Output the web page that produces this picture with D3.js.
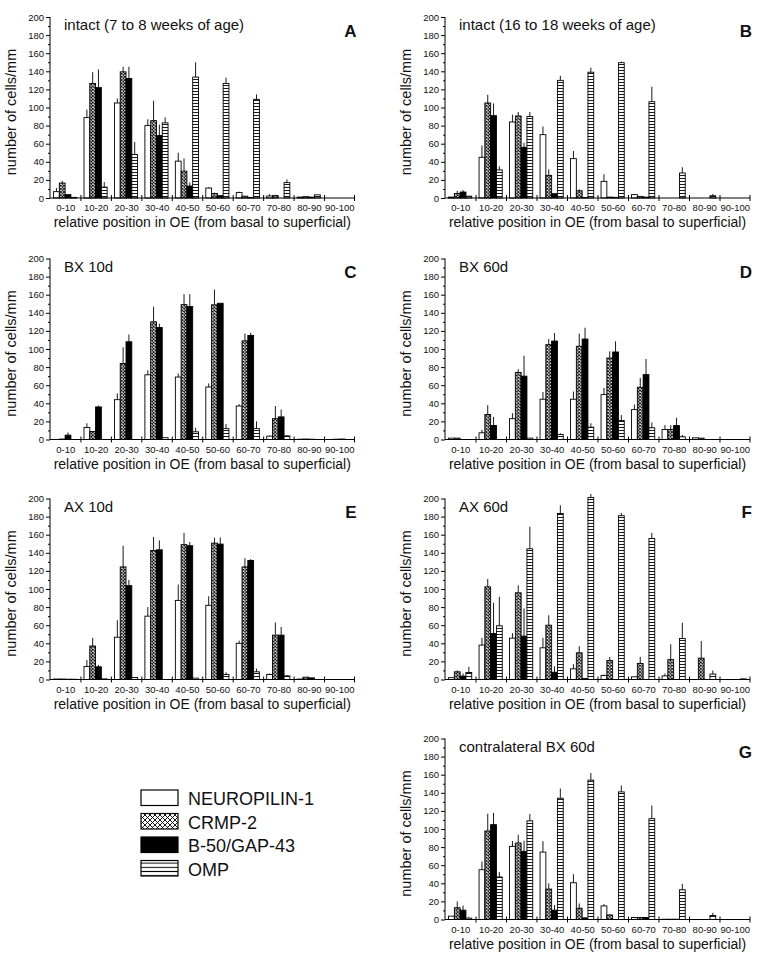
<!DOCTYPE html>
<html><head><meta charset="utf-8">
<script src="https://cdn.jsdelivr.net/npm/d3@7"></script>
<style>body{margin:0;background:#fff}svg{display:block}text{font-family:"Liberation Sans",Arial,Helvetica,sans-serif;fill:#111}</style>
</head><body><svg id="c" width="766" height="959"></svg>
<script>
// ---------- DATA ----------
const categories = ["0-10","10-20","20-30","30-40","40-50","50-60","60-70","70-80","80-90","90-100"];
const seriesNames = ["NEUROPILIN-1","CRMP-2","B-50/GAP-43","OMP"];
const yTickValues = [0,20,40,60,80,100,120,140,160,180,200];
const panelLetters = ["A","B","C","D","E","F","G"];
const panelTitles = ["intact (7 to 8 weeks of age)","intact (16 to 18 weeks of age)","BX 10d","BX 60d","AX 10d","AX 60d","contralateral BX 60d"];
const xAxisTitle = "relative position in OE (from basal to superficial)";
const yAxisTitle = "number of cells/mm";

// rows: NEUROPILIN-1, CRMP-2, B-50/GAP-43, OMP ; columns: categories
const valuesA = [
  [7, 88.8, 105, 80, 40.7, 11, 6, 2.2, 1, 0],
  [16.5, 126.6, 139.4, 85.5, 29.7, 5, 2, 2.6, 1.5, 0],
  [3.7, 122, 132, 69, 13.2, 2.6, 0.5, 0, 1, 0],
  [0.7, 12, 48, 83, 133.6, 126.6, 109, 17, 3.5, 0]];
const errorsA = [
  [4, 9, 5, 7, 9.3, 1, 1, 2, 0, 0],
  [2.5, 12.4, 5.6, 22, 14, 1, 0, 1, 0, 0],
  [0, 20, 13, 12, 4, 0, 0, 0, 0, 0],
  [0, 5.6, 14, 6, 16.4, 6.4, 5.5, 3.5, 0, 0]];

const valuesB = [
  [1, 45, 84, 70, 43.5, 18.4, 3.7, 0, 0, 0],
  [5, 105, 90.6, 25, 8, 1, 1.8, 0, 0, 0],
  [6.6, 91, 56, 4.8, 0.5, 0.7, 1, 0, 0, 0],
  [2, 31, 90, 130, 139, 149.5, 106.4, 27.6, 2.5, 0]];
const errorsB = [
  [0, 13, 8, 9, 8.5, 8, 0.7, 0, 0, 0],
  [3, 9, 4.4, 6.7, 1.6, 0, 0, 0, 0, 0],
  [2.2, 13.6, 5, 0, 0, 0, 0, 0, 0, 0],
  [0, 4, 5, 5, 5, 1.1, 16.6, 6.4, 2, 0]];

const valuesC = [
  [0, 13.3, 44, 71.5, 69, 58, 37, 3.7, 0.3, 0],
  [0.5, 8.8, 84, 130, 149, 148.8, 109, 23, 0.5, 0.3],
  [4.8, 36, 108, 123.8, 147, 150.5, 115, 25, 0.3, 0.5],
  [0, 0, 0, 2, 8.5, 12, 12, 4, 0, 0]];
const errorsC = [
  [0, 4.7, 7, 5, 4, 4, 2, 0.7, 0, 0],
  [0, 0, 18, 16.6, 11.6, 16.8, 8, 14, 0, 0],
  [3, 1.5, 8, 4.2, 13.6, 0, 3, 8, 0, 0],
  [0, 0, 0, 0, 4.5, 5, 8, 0.5, 0, 0]];

const valuesD = [
  [1.5, 7.4, 23, 44.5, 44.5, 49.6, 33, 11, 1.8, 0],
  [1.5, 27.6, 74, 104.8, 103, 90, 57.7, 11, 1.5, 0],
  [0, 15.4, 70, 108.8, 111, 96.7, 71.7, 15.4, 0, 0],
  [0, 0, 1.5, 5.5, 13.6, 21, 12.9, 3, 0, 0]];
const errorsD = [
  [0, 3.3, 6, 8, 8.5, 7.4, 5.6, 5, 0, 0],
  [0, 10.4, 3.6, 6.2, 14, 7.4, 10.3, 5, 0, 0],
  [0, 9.6, 22.6, 8.8, 12.5, 11.8, 17.3, 8.6, 0, 0],
  [0, 0, 0, 1.5, 4.4, 6, 6, 2, 0, 0]];

const valuesE = [
  [0.5, 14.4, 46.7, 70, 87.4, 82, 40, 5.5, 0.5, 0],
  [0.5, 37, 124.4, 142.6, 149, 150.7, 124.4, 49, 2.6, 0],
  [0.3, 14, 103.7, 143.3, 147.8, 149.6, 131.5, 49, 1.8, 0],
  [0.3, 0.7, 2.2, 0, 1.5, 5.5, 8.5, 4, 0, 0]];
const errorsE = [
  [0, 7, 18.8, 10, 17.6, 10, 3, 1.2, 0, 0],
  [0, 9, 23.4, 14.8, 13, 6, 9.6, 14, 0, 0],
  [0, 2, 6.3, 10.4, 4.2, 7.4, 1.5, 9, 0, 0],
  [0, 0, 0, 0, 0, 2.5, 3.5, 1, 0, 0]];

const valuesF = [
  [2, 38, 45.7, 35, 11.8, 4.4, 3, 4, 0, 0],
  [8.5, 102.4, 95.8, 60, 29.5, 21, 17.7, 22, 23.6, 0],
  [3.7, 50.8, 47.9, 8, 1, 0, 0, 0, 0, 0],
  [7.7, 59.3, 144.4, 183.4, 201, 181, 155.8, 45.3, 6, 0.7]];
const errorsF = [
  [0, 8, 5.5, 11, 5.2, 1.1, 0, 2.6, 0, 0],
  [1.5, 8.6, 8.2, 11, 7.3, 4, 7.3, 17, 19, 0],
  [2.9, 34, 30.6, 6.7, 0, 0, 0, 0, 0, 0],
  [6.3, 32, 24.3, 9.2, 4, 3, 6.2, 17.3, 4, 0]];

const valuesG = [
  [3.7, 55, 80.8, 74.5, 40.6, 15, 2.2, 0.3, 0, 0],
  [13, 97.8, 84.5, 33.6, 12.5, 5, 2.2, 0.3, 0, 0],
  [10.3, 104.8, 75.3, 10.3, 1.8, 0, 2.2, 0.3, 0, 0],
  [1.5, 47, 109, 134, 154, 141, 111.4, 32.8, 4.4, 0]];
const errorsG = [
  [0, 9, 6, 12, 9.4, 2, 0, 0, 0, 0],
  [7, 19, 9.2, 6.4, 5.2, 1, 0, 0, 0, 0],
  [5.2, 13, 11.7, 5.7, 0, 0, 0, 0, 0, 0],
  [1.5, 5.4, 7.6, 10.6, 8, 7, 14.6, 6.7, 3, 0]];

// ---------- LAYOUT ----------
const panelValues = [valuesA, valuesB, valuesC, valuesD, valuesE, valuesF, valuesG];
const panelErrors = [errorsA, errorsB, errorsC, errorsD, errorsE, errorsF, errorsG];
const colX = [[50, 354.5], [445, 750]];
const rowTop = [17, 258.5, 498.5, 738.5];
const plotH = 181;
const panelPos = [[0,0],[1,0],[0,1],[1,1],[0,2],[1,2],[1,3]];

const svg = d3.select("#c");
const defs = svg.append("defs");
function crossPattern(id, s, sw) {
  const p = defs.append("pattern").attr("id", id).attr("patternUnits", "userSpaceOnUse")
    .attr("width", s).attr("height", s);
  p.append("rect").attr("width", s).attr("height", s).attr("fill", "#fff");
  p.append("path").attr("d", `M0,0L${s},${s}M${s},0L0,${s}`).attr("stroke", "#000").attr("stroke-width", sw);
  return `url(#${id})`;
}
function hPattern(id, s, sw) {
  const p = defs.append("pattern").attr("id", id).attr("patternUnits", "userSpaceOnUse")
    .attr("width", 4).attr("height", s);
  p.append("rect").attr("width", 4).attr("height", s).attr("fill", "#fff");
  p.append("line").attr("x1", 0).attr("x2", 4).attr("y1", s/2).attr("y2", s/2).attr("stroke", "#000").attr("stroke-width", sw);
  return `url(#${id})`;
}
const fills = ["#fff", crossPattern("cross", 3.2, 0.9), "#000", hPattern("hor", 3, 0.9)];
const legendFills = ["#fff", crossPattern("crossL", 5, 0.9), "#000", hPattern("horL", 4.2, 1)];

panelValues.forEach((vals, pi) => {
  const [c, r] = panelPos[pi];
  const [x0, x1] = colX[c];
  const yTop = rowTop[r], yBot = yTop + plotH;
  const g = svg.append("g");
  const x = d3.scaleBand().domain(categories).range([x0 + 0.5, x1 + 0.5]).paddingInner(0).paddingOuter(0);
  const bw = x.bandwidth();
  const xs = d3.scaleBand().domain(d3.range(seriesNames.length)).range([bw * 0.1, bw * 0.86]);
  const y = d3.scaleLinear().domain([0, 200]).range([yBot, yTop]);

  // bars
  vals.forEach((row, si) => {
    row.forEach((v, ci) => {
      if (v <= 0) return;
      const bx = x(categories[ci]) + xs(si);
      g.append("rect").attr("x", bx).attr("y", y(v)).attr("width", xs.bandwidth())
        .attr("height", y(0) - y(v)).attr("fill", fills[si]).attr("stroke", "#000").attr("stroke-width", 0.9);
      const e = panelErrors[pi][si][ci];
      if (e > 0) {
        const cx = bx + xs.bandwidth() / 2;
        g.append("line").attr("x1", cx).attr("x2", cx).attr("y1", y(v)).attr("y2", y(v + e))
          .attr("stroke", "#000").attr("stroke-width", 0.9);
      }
    });
  });

  // y axis
  const yAxis = d3.axisLeft(y).tickValues(yTickValues).tickSize(4).tickPadding(2);
  const ya = g.append("g").attr("transform", `translate(${x0},0)`).call(yAxis);
  ya.select(".domain").attr("d", `M0,${yBot}V${yTop}`);
  ya.selectAll("text").style("font-size", "9.5px").style("font-family", '"Liberation Sans",Arial,sans-serif');
  const yMinor = d3.axisLeft(y).tickValues(d3.range(10, 200, 20)).tickSize(2).tickFormat("");
  g.append("g").attr("transform", `translate(${x0},0)`).call(yMinor).select(".domain").remove();

  // x axis
  g.append("line").attr("x1", x0).attr("x2", x1).attr("y1", yBot).attr("y2", yBot).attr("stroke", "#000");
  const bounds = categories.map(cat => x(cat)).concat([x1]);
  bounds.forEach((bx, i) => {
    if (i === 0) return;
    g.append("line").attr("x1", bx).attr("x2", bx).attr("y1", yBot - 3).attr("y2", yBot + 3).attr("stroke", "#000");
  });
  categories.forEach(cat => {
    g.append("text").attr("x", x(cat) + bw / 2).attr("y", yBot + 13).attr("text-anchor", "middle")
      .style("font-size", "9.5px").text(cat);
  });
  g.append("text").attr("x", (x0 + x1) / 2).attr("y", yBot + 29).attr("text-anchor", "middle")
    .style("font-size", "14px").text(xAxisTitle);
  g.append("text").attr("transform", `translate(${x0 - 34},${yTop + 95}) rotate(-90)`)
    .attr("text-anchor", "middle").style("font-size", "14.5px").text(yAxisTitle);

  // titles
  g.append("text").attr("x", x0 + 14).attr("y", yTop + 13).style("font-size", "15px").text(panelTitles[pi]);
  g.append("text").attr("x", x1 + 2).attr("y", yTop + 19.5).attr("text-anchor", "end")
    .style("font-size", "17px").style("font-weight", "bold").text(panelLetters[pi]);
});

// legend
const lg = svg.append("g");
seriesNames.forEach((name, i) => {
  const yy = 790 + i * 23.5;
  lg.append("rect").attr("x", 141).attr("y", yy).attr("width", 37).attr("height", 15.5)
    .attr("fill", legendFills[i]).attr("stroke", "#000").attr("stroke-width", 1.2);
  lg.append("text").attr("x", 188).attr("y", yy + 15).style("font-size", "18px").text(name);
});
</script>
</body></html>
